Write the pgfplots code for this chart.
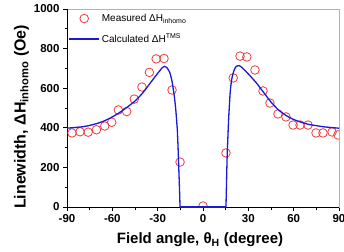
\documentclass[border=0pt]{standalone}
\usepackage{fontspec}
\setmainfont{Liberation Sans}
\usepackage{pgfplots}
\pgfplotsset{compat=1.18}
\definecolor{mred}{RGB}{235,60,60}
\definecolor{mblue}{RGB}{25,25,215}
\pgfplotsset{
  markleg/.style={legend image code/.code={\draw[mred, line width=0.8pt, mark=o, mark size=4.3pt] plot coordinates {(15pt,0pt)};}},
  lineleg/.style={legend image code/.code={\draw[mblue, line width=1.3pt] (0pt,0pt) -- (30pt,0pt);}},
}
\begin{document}
\begin{tikzpicture}
\path[use as bounding box] (-67pt,-44pt) rectangle (277pt,207pt);
\begin{axis}[
  scale only axis, width=272pt, height=198pt,
  xmin=-90, xmax=90, ymin=0, ymax=1000,
  xtick={-90,-60,...,90}, minor xtick={-75,-45,...,75},
  ytick={0,200,...,1000}, minor ytick={100,300,...,900},
  tick align=outside, xtick pos=lower, ytick pos=left,
  major tick length=4pt, minor tick length=2.5pt,
  tick style={black, line width=0.8pt},
  axis line style={gray!60, line width=0.6pt},
  /pgf/number format/assume math mode=true,
  /pgf/number format/1000 sep={},
  tick label style={font=\fontsize{11.5}{13}\selectfont\bfseries},
  xlabel={Field angle, θ\textsubscript{H} (degree)},
  ylabel={Linewidth, ΔH\textsubscript{inhomo} (Oe)},
  xlabel style={font=\fontsize{15}{17}\selectfont\bfseries, at={(axis description cs:0.489,-0.167)}, anchor=center},
  ylabel style={font=\fontsize{16}{18}\selectfont\bfseries, at={(axis description cs:-0.167,0.455)}, anchor=center},
  clip marker paths=true,
  legend style={at={(axis description cs:0.005,0.985)}, anchor=north west,
    draw=none, fill=none, font=\fontsize{10}{12}\selectfont, row sep=7pt,
    inner xsep=0pt, inner ysep=0pt},
  legend cell align=left,
]
\draw[black, line width=1pt] (rel axis cs:0,1) -- (rel axis cs:0,0) -- (rel axis cs:1,0);
\addplot[only marks, mark=o, mark size=4.3pt, mred, line width=0.8pt, markleg]
coordinates {
(-86.7,374) (-81.4,380) (-76,378) (-70.5,390) (-65,409) (-60.4,428)
(-56,490) (-50.5,482) (-45.5,545) (-40.4,606) (-35.5,680) (-31,748)
(-25.8,750) (-20.5,591) (-15.2,227) (0,5) (15.2,273) (20,652)
(24.5,762) (29,758) (34.4,692) (39.7,586) (44.3,525) (49.6,470)
(54.9,455) (59.6,414) (64.2,414) (69.5,414) (74.8,374) (79.4,374)
(85.4,379) (89.3,364)
};
\addlegendentry{Measured ΔH\textsubscript{inhomo}}
\addplot[mblue, line width=1.3pt, smooth, tension=0.3, lineleg]
coordinates {
(-90,398) (-80,405) (-75,412) (-70,422) (-65,436) (-60,455) (-55,478)
(-50,505) (-45,535) (-40,575) (-35,625) (-30,675) (-27,703) (-25.5,710)
(-24,705) (-22,680) (-20.5,635) (-19,560) (-18,490) (-17,390) (-16.5,300)
(-16,190) (-15.5,80) (-15.2,0)
};
\addlegendentry{Calculated ΔH\textsuperscript{TMS}}
\addplot[mblue, line width=1.3pt, forget plot] coordinates {(-15.2,0) (15.2,0)};
\addplot[mblue, line width=1.3pt, smooth, tension=0.3, forget plot]
coordinates {
(15.2,0) (15.5,100) (16,260) (17,450) (18,580) (19,645) (20.5,690)
(22,710) (24,714) (26,703) (30,672) (35,630) (40,580) (45,530)
(50,490) (55,462) (60,442) (65,428) (70,417) (80,405) (90,398)
};
\end{axis}
\end{tikzpicture}
\end{document}
